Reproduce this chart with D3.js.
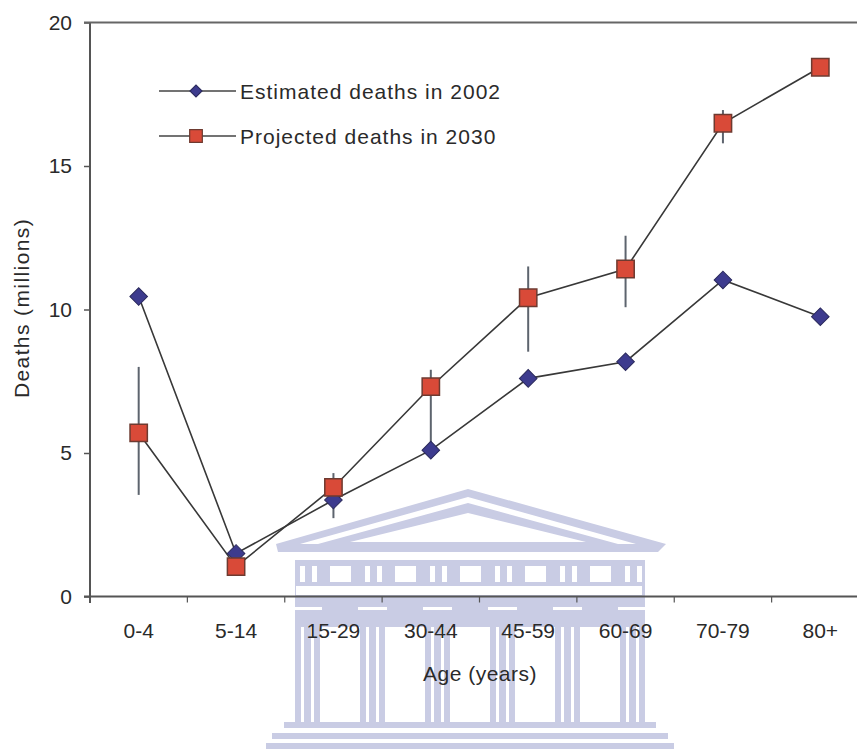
<!DOCTYPE html>
<html>
<head>
<meta charset="utf-8">
<script src="https://cdn.jsdelivr.net/npm/d3@7"></script>
<style>
  body { margin: 0; background: #fff; }
  text { font-family: "Liberation Sans", Arial, sans-serif; fill: #2a2a2a; }
</style>
</head>
<body>
<script>
// Data
const ageGroups = ["0-4", "5-14", "15-29", "30-44", "45-59", "60-69", "70-79", "80+"];
const deaths2002 = [10.45, 1.5, 3.36, 5.1, 7.6, 8.18, 11.03, 9.75];
const deaths2030 = [5.7, 1.04, 3.8, 7.31, 10.41, 11.41, 16.49, 18.44];
const low2030 = [3.54, null, 2.73, 5.1, 8.53, 10.08, 15.79, null];
const high2030 = [8.0, null, 4.3, 7.9, 11.5, 12.57, 16.95, null];
const yTicks = [0, 5, 10, 15, 20];
const seriesNames = ["Estimated deaths in 2002", "Projected deaths in 2030"];

let width = 857, height = 749;

let svg = d3.select("body")
  .append("svg")
  .attr("width", width)
  .attr("height", height);

// Scales
let x = d3.scaleBand().domain(ageGroups).range([90, 869]);
let y = d3.scaleLinear().domain([0, 20]).range([596.5, 22.5]);
let cx = (d) => x(d) + x.bandwidth() / 2;

// Watermark (temple) drawn faintly behind everything
let wm = svg.append("g").attr("fill", "#c9cce4");
wm.append("polygon").attr("points", "468,489 276,544 278,552 658,552 666,544");
wm.append("polygon").attr("points", "468,497 300,544 636,544").attr("fill", "#fff");
wm.append("polygon").attr("points", "468,503 318,544 618,544");
wm.append("polygon").attr("points", "468,513 350,542 586,542").attr("fill", "#fff");
wm.append("rect").attr("x", 286).attr("y", 544).attr("width", 370).attr("height", 8);
wm.append("rect").attr("x", 295).attr("y", 560).attr("width", 350).attr("height", 67);
wm.append("rect").attr("x", 296).attr("y", 586).attr("width", 346).attr("height", 9).attr("fill", "#fff");
for (let k = 0; k < 6; k++) {
  let bx = 300 + k * 65;
  wm.append("rect").attr("x", bx).attr("y", 566).attr("width", 5).attr("height", 16).attr("fill", "#fff");
  wm.append("rect").attr("x", bx + 12).attr("y", 566).attr("width", 5).attr("height", 16).attr("fill", "#fff");
  if (k < 5) wm.append("rect").attr("x", bx + 30).attr("y", 566).attr("width", 21).attr("height", 16).attr("fill", "#fff");
  let colX = 293 + k * 65;
  wm.append("rect").attr("x", colX).attr("y", 607).attr("width", 29).attr("height", 3).attr("fill", "#fff");
  wm.append("rect").attr("x", colX + 2).attr("y", 610).attr("width", 25).attr("height", 112);
  wm.append("rect").attr("x", colX + 8).attr("y", 627).attr("width", 3).attr("height", 95).attr("fill", "#fff");
  wm.append("rect").attr("x", colX + 18).attr("y", 627).attr("width", 3).attr("height", 95).attr("fill", "#fff");
}
wm.append("rect").attr("x", 284).attr("y", 722).attr("width", 372).attr("height", 6);
wm.append("rect").attr("x", 272).attr("y", 733).attr("width", 396).attr("height", 6);
wm.append("rect").attr("x", 266).attr("y", 743).attr("width", 408).attr("height", 6);

// Axes
let yAxis = svg.append("g")
  .attr("transform", "translate(90,0)")
  .call(d3.axisLeft(y).tickValues(yTicks).tickSize(6).tickSizeOuter(0).tickPadding(12));
yAxis.select(".domain").remove();
yAxis.selectAll("line").attr("stroke", "#555").attr("stroke-width", 1.5);
yAxis.selectAll("text").style("font-size", "21px").attr("fill", "#2a2a2a");

svg.append("line").attr("x1", 90).attr("x2", 90).attr("y1", 22.5).attr("y2", 603)
  .attr("stroke", "#555").attr("stroke-width", 2);
svg.append("line").attr("x1", 84).attr("x2", width).attr("y1", 22.5).attr("y2", 22.5)
  .attr("stroke", "#666").attr("stroke-width", 2);

let xAxis = svg.append("g")
  .attr("transform", `translate(0,${y(0)})`)
  .call(d3.axisBottom(x).tickSize(0).tickPadding(27));
xAxis.select(".domain").remove();
xAxis.selectAll("text").style("font-size", "21px").attr("fill", "#2a2a2a");

svg.append("line").attr("x1", 84).attr("x2", width).attr("y1", y(0)).attr("y2", y(0))
  .attr("stroke", "#555").attr("stroke-width", 2);
svg.append("g").selectAll("line")
  .data(ageGroups.slice(1))
  .enter()
  .append("line")
  .attr("x1", (d) => x(d)).attr("x2", (d) => x(d))
  .attr("y1", y(0)).attr("y2", y(0) + 6)
  .attr("stroke", "#555").attr("stroke-width", 1.2);

// Axis titles
svg.append("text")
  .attr("x", 480).attr("y", 681)
  .attr("text-anchor", "middle")
  .style("font-size", "21px").style("letter-spacing", "0.5px")
  .text("Age (years)");
svg.append("text")
  .attr("transform", "translate(29,308) rotate(-90)")
  .attr("text-anchor", "middle")
  .style("font-size", "21px").style("letter-spacing", "1.4px")
  .text("Deaths (millions)");

// Error bars
let bars = ageGroups.map((g, i) => ({ g, lo: low2030[i], hi: high2030[i] })).filter((d) => d.lo != null);
svg.append("g").selectAll("line")
  .data(bars)
  .enter()
  .append("line")
  .attr("x1", (d) => cx(d.g)).attr("x2", (d) => cx(d.g))
  .attr("y1", (d) => y(d.lo)).attr("y2", (d) => y(d.hi))
  .attr("stroke", "#5d646e").attr("stroke-width", 2);

// Lines
let line = d3.line().x((d) => cx(d[0])).y((d) => y(d[1]));
[deaths2002, deaths2030].forEach((s) => {
  svg.append("path")
    .datum(ageGroups.map((g, i) => [g, s[i]]))
    .attr("d", line)
    .attr("fill", "none")
    .attr("stroke", "#383838")
    .attr("stroke-width", 1.6);
});

// Markers
let diamond = d3.symbol().type(d3.symbolSquare).size(155);
let square = d3.symbol().type(d3.symbolSquare).size(300);

svg.append("g").selectAll("path")
  .data(ageGroups.map((g, i) => [g, deaths2002[i]]))
  .enter()
  .append("path")
  .attr("d", diamond)
  .attr("transform", (d) => `translate(${cx(d[0])},${y(d[1])}) rotate(45)`)
  .attr("fill", "#3d3b8e")
  .attr("stroke", "#2b2a5c")
  .attr("stroke-width", 1);

svg.append("g").selectAll("path")
  .data(ageGroups.map((g, i) => [g, deaths2030[i]]))
  .enter()
  .append("path")
  .attr("d", square)
  .attr("transform", (d) => `translate(${cx(d[0])},${y(d[1])})`)
  .attr("fill", "#d94a38")
  .attr("stroke", "#6e3a30")
  .attr("stroke-width", 1.5);

// Legend
let legend = svg.append("g");
let legendY = [91, 136];
legendY.forEach((ly, i) => {
  legend.append("line").attr("x1", 159).attr("x2", 236).attr("y1", ly).attr("y2", ly)
    .attr("stroke", "#444").attr("stroke-width", 1.6);
  legend.append("path")
    .attr("d", i === 0 ? d3.symbol().type(d3.symbolSquare).size(72)() : d3.symbol().type(d3.symbolSquare).size(160)())
    .attr("transform", i === 0 ? `translate(196,${ly}) rotate(45)` : `translate(196,${ly})`)
    .attr("fill", i === 0 ? "#3d3b8e" : "#d94a38")
    .attr("stroke", i === 0 ? "#2b2a5c" : "#6e3a30")
    .attr("stroke-width", 1.2);
  legend.append("text")
    .attr("x", 240).attr("y", ly + 8)
    .style("font-size", "21px").style("letter-spacing", "1px")
    .text(seriesNames[i]);
});
</script>
</body>
</html>
